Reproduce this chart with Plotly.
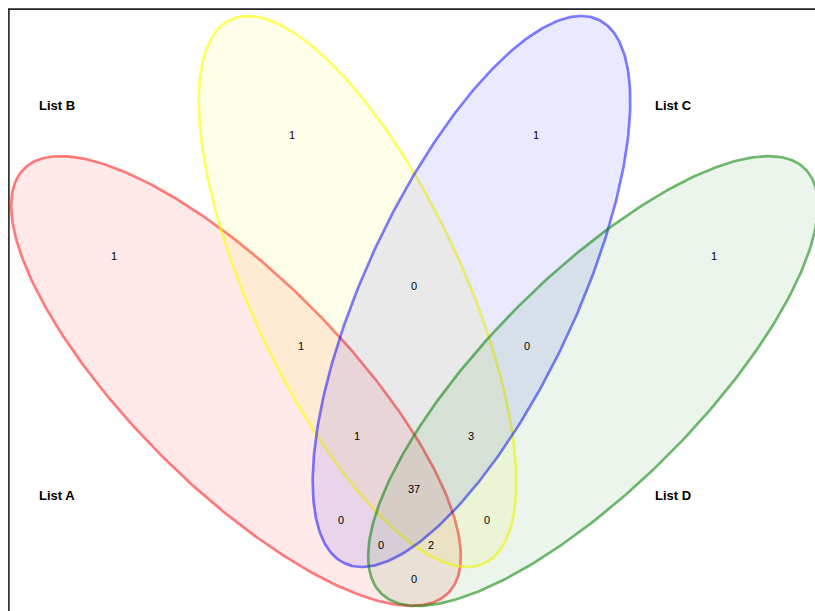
import numpy as np
import plotly.graph_objects as go

# ---- data ----
set_names = ["List A", "List B", "List C", "List D"]
region_keys = ["A", "B", "C", "D", "AB", "BC", "CD", "ABC", "BCD", "ABCD",
               "AC", "BD", "ACD", "ABD", "AD"]
region_counts = [1, 1, 1, 1, 1, 0, 0, 1, 3, 37, 0, 0, 0, 2, 0]

# ---- layout / geometry (screen pixel space; page margin removed) ----
W, H = 815, 611
ellipses = [  # cx, cy, angle(deg), stroke, fill
    (236.0, 381.0, 45.0, "rgba(255,0,0,0.5)", "rgba(255,0,0,0.085)"),
    (357.5, 291.5, 65.0, "rgba(255,255,0,0.6)", "rgba(255,255,0,0.085)"),
    (471.5, 291.5, 115.0, "rgba(0,0,255,0.5)", "rgba(0,0,255,0.085)"),
    (593.0, 381.0, 135.0, "rgba(0,128,0,0.55)", "rgba(0,128,0,0.08)"),
]
A_AX, B_AX = 300.0, 105.5

set_label_pos = [(57, 495), (57, 105), (673, 105), (673, 495)]
region_pos = {
    "A": (114, 256), "B": (292, 135), "C": (536, 135), "D": (714, 256),
    "AB": (301, 346), "BC": (414, 286), "CD": (527, 346),
    "ABC": (357, 436), "BCD": (471, 436), "ABCD": (414, 489),
    "AC": (341, 520), "BD": (487, 520), "ACD": (381, 545),
    "ABD": (431, 545), "AD": (414, 579),
}

fig = go.Figure()
t = np.linspace(0, 2 * np.pi, 361)
for cx, cy, ang, stroke, fill in ellipses:
    th = np.deg2rad(ang)
    x = cx + A_AX * np.cos(t) * np.cos(th) - B_AX * np.sin(t) * np.sin(th)
    y = cy + A_AX * np.cos(t) * np.sin(th) + B_AX * np.sin(t) * np.cos(th)
    fig.add_trace(go.Scatter(x=x, y=y, mode="lines", fill="toself",
                             fillcolor=fill, line=dict(color=stroke, width=2.7),
                             hoverinfo="skip", showlegend=False))

for name, (px, py) in zip(set_names, set_label_pos):
    fig.add_annotation(x=px, y=py, text="<b>" + name + "</b>", showarrow=False,
                       font=dict(family="Liberation Sans, Arial", size=13, color="#000"))

for key, cnt in zip(region_keys, region_counts):
    px, py = region_pos[key]
    fig.add_annotation(x=px, y=py, text=str(cnt), showarrow=False,
                       font=dict(family="Liberation Sans, Arial", size=11, color="#000"))

# frame (left + top edges visible)
fig.add_shape(type="line", x0=8.9, x1=8.9, y0=9, y1=H + 20,
              line=dict(color="#222", width=1.6))
fig.add_shape(type="line", x0=8, x1=W + 20, y0=9.1, y1=9.1,
              line=dict(color="#222", width=1.6))

fig.update_layout(
    width=W, height=H, margin=dict(l=0, r=0, t=0, b=0),
    paper_bgcolor="white", plot_bgcolor="white",
    xaxis=dict(range=[0, W], visible=False, fixedrange=True),
    yaxis=dict(range=[H, 0], visible=False, fixedrange=True),
)
fig.write_html(
    "out.html",
    config={"displayModeBar": False},
    post_script="document.body.style.margin='0';"
                "document.body.style.overflow='hidden';",
)
